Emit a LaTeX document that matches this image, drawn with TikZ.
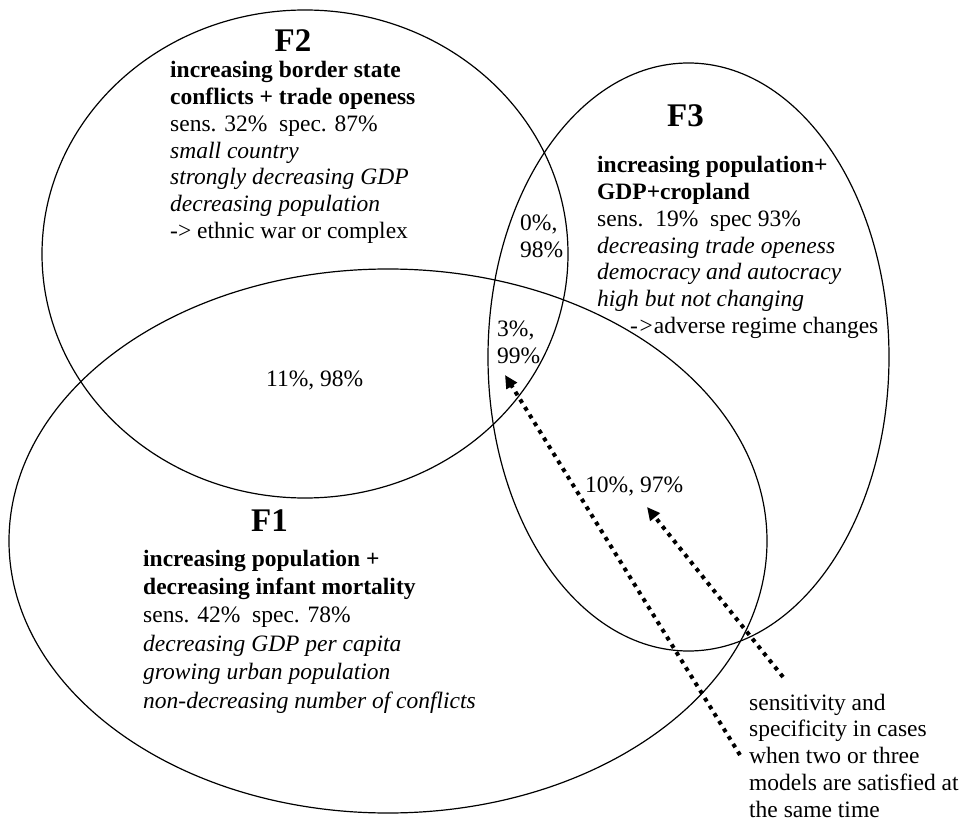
\documentclass[tikz,border=0pt]{standalone}
\usepackage{fontspec}
\setmainfont{Liberation Serif}
\usetikzlibrary{shapes.geometric,arrows.meta}
\newcommand\lines[1]{\begin{tabular}[t]{@{}l@{}}#1\end{tabular}}
\begin{document}
\begin{tikzpicture}[x=1pt,y=-1pt,
  venn/.style={draw, ellipse, line width=1.2pt, inner sep=0pt, outer sep=0pt},
  ftitle/.style={anchor=base, inner sep=0pt, font=\fontsize{33}{36}\selectfont\bfseries},
  txtA/.style={anchor=base west, inner sep=0pt, font=\fontsize{23.5}{26.67}\selectfont},
  txtB/.style={anchor=base west, inner sep=0pt, font=\fontsize{23.5}{28.4}\selectfont},
  txtC/.style={anchor=base west, inner sep=0pt, font=\fontsize{23.5}{26.75}\selectfont},
  dotarrow/.style={line width=4pt, dash pattern=on 4pt off 5pt, -{Triangle[length=13pt,width=12pt]}}
]
\useasboundingbox (0,0) rectangle (962,821);

% ellipses
\node[venn, minimum width=758pt, minimum height=544pt] (F1) at (388,541) {};
\node[venn, minimum width=526pt, minimum height=488pt] (F2) at (305,254) {};
\node[venn, minimum width=401pt, minimum height=588pt] (F3) at (688.5,357) {};

% F2
\node[ftitle] (t2) at (293,52) {F2};
\node[txtA] (b2) at (170,78) {\lines{\textbf{increasing border state}\\
\textbf{conflicts + trade openess}\\
sens. 32\%\ \ spec. 87\%\\
\textit{small country}\\
\textit{strongly decreasing GDP}\\
\textit{decreasing population}\\
-> ethnic war or complex}};

% F3
\node[ftitle] (t3) at (685.5,127) {F3};
\node[txtA] (b3) at (597,173) {\lines{\textbf{increasing population+}\\
\textbf{GDP+cropland}\\
sens.\ \ 19\%\ \ spec 93\%\\
\textit{decreasing trade openess}\\
\textit{democracy and autocracy}\\
\textit{high but not changing}\\
\hspace*{33pt}\textit{->}adverse regime changes}};

% F1
\node[ftitle] (t1) at (269.5,531) {F1};
\node[txtB] (b1) at (143,566) {\lines{\textbf{increasing population +}\\
\textbf{decreasing infant mortality}\\
sens. 42\%\ \ spec. 78\%\\
\textit{decreasing GDP per capita}\\
\textit{growing urban population}\\
\textit{non-decreasing number of conflicts}}};

% intersections
\node[txtC] (i23) at (520,231) {\lines{0\%,\\98\%}};
\node[txtC] (i123) at (497,337) {\lines{3\%,\\99\%}};
\node[txtC] (i12) at (266,386) {11\%, 98\%};
\node[txtC] (i13) at (585,492) {10\%, 97\%};

% note
\node[txtC, text depth=106pt] (note) at (749,710) {\lines{sensitivity and\\
specificity in cases\\
when two or three\\
models are satisfied at\\
the same time}};

\coordinate (a1s) at (740,755);
\coordinate (a1e) at (505,375);
\coordinate (a2s) at (783,677);
\coordinate (a2e) at (647,507);
\draw[dotarrow] (a1s) -- (a1e);
\draw[dotarrow] (a2s) -- (a2e);
\end{tikzpicture}
\end{document}
